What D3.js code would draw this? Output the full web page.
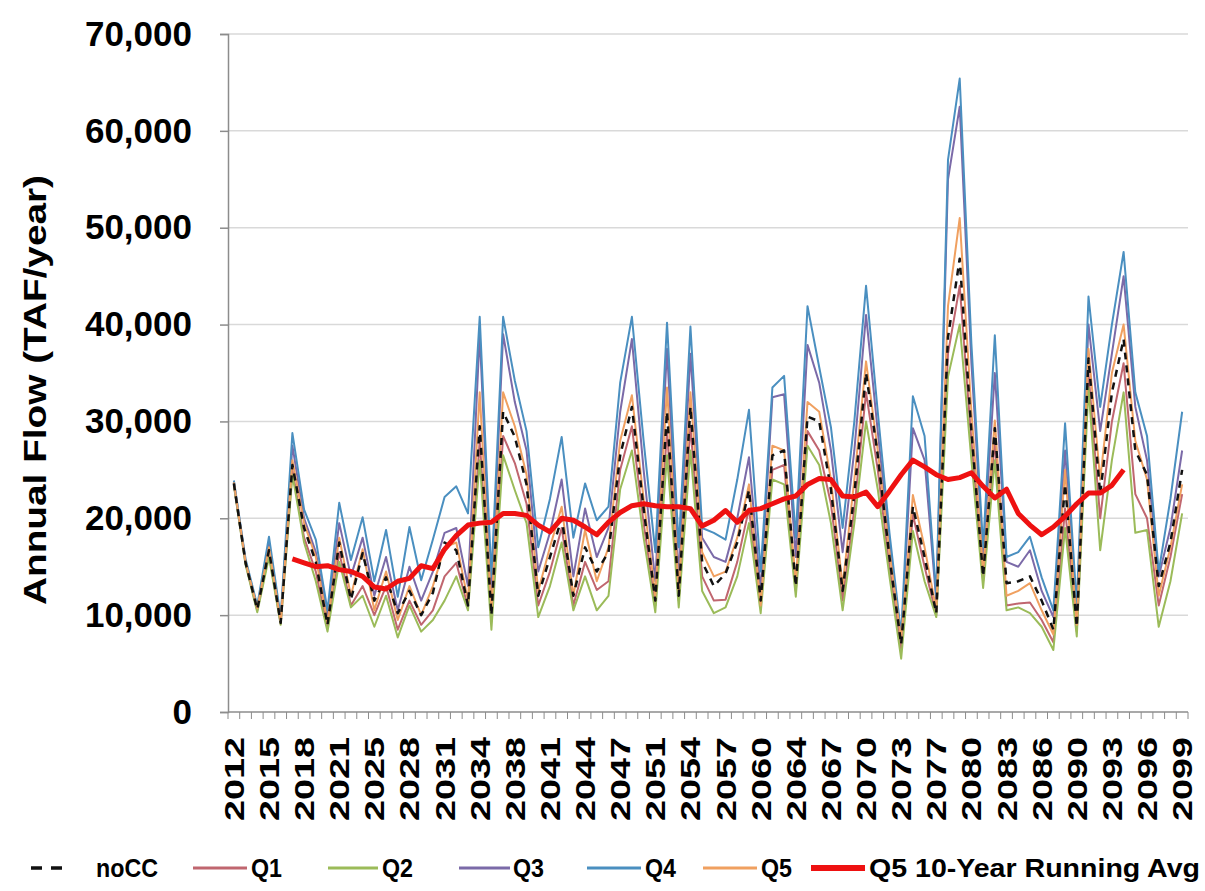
<!DOCTYPE html>
<html>
<head>
<meta charset="utf-8">
<script src="https://cdn.jsdelivr.net/npm/d3@7"></script>
<style>
  body { margin: 0; background: #fff; }
  text { font-family: 'Liberation Sans', Arial, sans-serif; font-weight: bold; fill: #000; }
</style>
</head>
<body>
<svg id="chart" width="1205" height="891"></svg>
<script>
// categories (one point per year, a few years are not in the series)
const years = [2012, 2013, 2014, 2015, 2016, 2017, 2018, 2019, 2020, 2021, 2022, 2023,
  2025, 2026, 2027, 2028, 2029, 2030, 2031, 2032, 2033, 2034, 2035, 2036,
  2038, 2039, 2040, 2041, 2042, 2043, 2044, 2045, 2046, 2047, 2048, 2049,
  2051, 2052, 2053, 2054, 2055, 2056, 2057, 2058, 2059, 2060, 2061, 2062,
  2064, 2065, 2066, 2067, 2068, 2069, 2070, 2071, 2072, 2073, 2074, 2075,
  2077, 2078, 2079, 2080, 2081, 2082, 2083, 2084, 2085, 2086, 2087, 2088,
  2090, 2091, 2092, 2093, 2094, 2095, 2096, 2097, 2098, 2099];

const noCC = [23600, 15400, 10600, 16700, 9200, 25500, 19000, 15500, 9000, 17500, 11600, 16400,
  11500, 13900, 10200, 12500, 10000, 12300, 17500, 16700, 11000, 29500, 10000, 31000,
  28400, 23500, 12000, 16000, 20000, 12000, 17000, 14500, 16500, 26500, 31500, 21000,
  11500, 31000, 12000, 31500, 15500, 13000, 14300, 17500, 22900, 11500, 26500, 27000,
  13000, 30500, 30000, 23000, 12500, 22500, 35000, 26500, 16000, 7000, 21200, 16000,
  10200, 38700, 46800, 29000, 14000, 29300, 13300, 13500, 14000, 11500, 8500, 23500,
  8800, 36500, 22500, 33000, 38500, 27000, 24500, 13000, 17500, 25000];

const q1 = [23500, 15300, 10500, 16300, 9100, 25000, 18000, 14500, 8600, 16500, 11000, 13000,
  10000, 13000, 8500, 11500, 9000, 10500, 14000, 15400, 10800, 28000, 9500, 28500,
  25700, 21500, 11000, 14500, 19000, 11000, 15500, 12600, 13500, 25000, 29500, 19500,
  11000, 29000, 11500, 29500, 14000, 11500, 11600, 15500, 21000, 10800, 25000, 25500,
  12500, 29000, 27000, 21500, 11500, 21000, 33000, 25000, 15000, 6500, 20400, 15000,
  10000, 37000, 44000, 28000, 13500, 28000, 11000, 11200, 11300, 9500, 7200, 21000,
  8300, 35000, 20000, 30000, 36000, 22500, 20000, 11000, 16000, 22500];

const q2 = [23400, 15200, 10300, 16000, 9000, 24500, 17500, 13500, 8300, 15500, 10800, 12000,
  8800, 12000, 7700, 11000, 8300, 9500, 11500, 14000, 10500, 26000, 8500, 26500,
  22900, 19500, 9800, 13000, 17500, 10500, 14000, 10500, 12000, 23000, 27000, 18000,
  10300, 26500, 10800, 27000, 12500, 10200, 10800, 14000, 19500, 10200, 24000, 23500,
  11900, 27500, 25500, 19500, 10500, 19500, 30000, 23000, 14000, 5500, 18700, 13500,
  9800, 34600, 40000, 26000, 12800, 26000, 10500, 10800, 10200, 8800, 6400, 19000,
  7800, 33500, 16700, 26000, 33000, 18500, 18800, 8800, 13500, 20500];

const q3 = [23800, 15600, 10800, 17500, 9500, 27500, 20000, 16500, 10000, 19500, 14000, 18000,
  12000, 16000, 10500, 15000, 11500, 14500, 18500, 19000, 13000, 39000, 12000, 39000,
  32000, 27000, 14500, 18500, 24000, 14000, 21000, 16000, 19000, 31000, 38500, 25000,
  13500, 37500, 14000, 37000, 18000, 16000, 15500, 20000, 26300, 12500, 32500, 32800,
  16000, 37900, 34000, 27000, 16500, 27000, 41000, 29000, 17500, 7500, 29300, 26000,
  11500, 55000, 62500, 36000, 16000, 35000, 15500, 15000, 16700, 12500, 9800, 27000,
  10000, 40000, 29000, 37000, 45000, 31500, 26000, 14000, 19000, 27000];

const q4 = [23900, 15800, 11000, 18100, 9800, 28800, 20900, 17800, 10500, 21600, 15700, 20100,
  13500, 18800, 11900, 19100, 13600, 17800, 22200, 23300, 20500, 40800, 14000, 40800,
  34200, 29000, 17000, 22000, 28400, 18000, 23600, 19800, 21200, 34000, 40800, 28000,
  16500, 40200, 17000, 39800, 19000, 18500, 17800, 24000, 31200, 14500, 33500, 34700,
  18000, 41900, 35600, 29400, 19000, 30000, 44000, 31000, 18500, 8000, 32600, 28500,
  12000, 57000, 65400, 38000, 17000, 38900, 16000, 16500, 18100, 13900, 10500, 29800,
  11000, 42900, 31500, 40000, 47500, 33000, 28500, 14500, 22000, 31000];

const q5 = [23700, 15500, 10700, 17000, 9300, 26000, 19500, 16000, 9200, 18000, 12000, 16800,
  10500, 14500, 9500, 13000, 10000, 13000, 17000, 17500, 11500, 33000, 10500, 33000,
  29500, 24500, 12500, 17000, 21200, 12000, 18800, 13500, 17000, 28000, 32700, 22000,
  12000, 33500, 12500, 33000, 16500, 14000, 14500, 18000, 23500, 11000, 27500, 27000,
  13500, 32000, 31000, 24000, 13000, 24000, 36200, 27000, 16500, 7500, 22400, 17000,
  10500, 41900, 51000, 31000, 14500, 30100, 12000, 12500, 13300, 10500, 8000, 25000,
  9000, 37500, 24000, 35000, 40000, 28000, 24000, 12000, 17000, 23500];

// Q5 10-year running average (undefined at both ends)
const q5RunAvg = [null, null, null, null, null, 15800, 15400, 15000, 15100, 14700, 14500, 14000,
  12900, 12700, 13500, 13800, 15100, 14800, 16800, 18200, 19300, 19500, 19600, 20500,
  20500, 20300, 19300, 18600, 20000, 19800, 19100, 18300, 19600, 20600, 21300, 21500,
  21300, 21200, 21200, 21000, 19200, 19800, 20800, 19600, 20800, 21000, 21500, 22000,
  22300, 23500, 24100, 24000, 22300, 22200, 22700, 21200, 22800, 24500, 26000, 25300,
  24500, 24000, 24200, 24700, 23300, 22100, 23000, 20500, 19300, 18300, 19100, 20200,
  21500, 22600, 22600, 23400, 25000, null, null, null, null, null];

const yTicks = [0, 10000, 20000, 30000, 40000, 50000, 60000, 70000];
const labelEvery = 3;

const series = [
  {name: 'Q1', values: q1, color: '#c0666f', width: 2, dash: null},
  {name: 'Q2', values: q2, color: '#9bbb59', width: 2, dash: null},
  {name: 'Q3', values: q3, color: '#7b6aa8', width: 2, dash: null},
  {name: 'Q4', values: q4, color: '#4a8fc0', width: 2, dash: null},
  {name: 'Q5', values: q5, color: '#f0a060', width: 2, dash: null},
  {name: 'noCC', values: noCC, color: '#111', width: 2.5, dash: '7,6'}
];
const avgSeries = {name: 'Q5 10-Year Running Avg', values: q5RunAvg, color: '#ee1111', width: 5};

const margin = {top: 34, right: 17, bottom: 179, left: 228};
const width = 1205, height = 891;

const svg = d3.select('#chart');

const x = d3.scaleBand()
  .domain(years)
  .range([margin.left, width - margin.right]);

const y = d3.scaleLinear()
  .domain([0, 70000])
  .range([height - margin.bottom, margin.top]);

const cx = d => x(d) + x.bandwidth() / 2;

// gridlines
svg.append('g')
  .selectAll('line')
  .data(yTicks.filter(d => d > 0))
  .enter()
  .append('line')
  .attr('x1', margin.left)
  .attr('x2', width - margin.right)
  .attr('y1', d => y(d))
  .attr('y2', d => y(d))
  .attr('stroke', '#d9d9d9')
  .attr('stroke-width', 1.5);

// y axis
const yAxis = svg.append('g')
  .attr('transform', 'translate(' + margin.left + ',0)')
  .call(d3.axisLeft(y).tickValues(yTicks).tickFormat(d3.format(',')).tickSize(8).tickPadding(28));

yAxis.select('.domain').attr('stroke', '#8c8c8c').attr('stroke-width', 1.5);
yAxis.selectAll('.tick line').attr('stroke', '#8c8c8c').attr('stroke-width', 1.5);
yAxis.selectAll('.tick text')
  .attr('font-size', 35)
  .attr('font-family', "'Liberation Sans', Arial, sans-serif")
  .attr('font-weight', 'bold')
  .attr('fill', '#000');

// x axis: tick marks between categories
const xAxisY = y(0);
svg.append('line')
  .attr('x1', margin.left)
  .attr('x2', width - margin.right)
  .attr('y1', xAxisY)
  .attr('y2', xAxisY)
  .attr('stroke', '#8c8c8c')
  .attr('stroke-width', 1.5);

svg.append('g')
  .selectAll('line')
  .data(d3.range(years.length + 1))
  .enter()
  .append('line')
  .attr('x1', i => margin.left + i * x.step())
  .attr('x2', i => margin.left + i * x.step())
  .attr('y1', xAxisY)
  .attr('y2', xAxisY + 7)
  .attr('stroke', '#8c8c8c')
  .attr('stroke-width', 1);

svg.append('g')
  .selectAll('text')
  .data(years.filter((d, i) => i % labelEvery === 0))
  .enter()
  .append('text')
  .attr('transform', d => 'translate(' + (cx(d) + 10) + ',' + (xAxisY + 25) + ') rotate(-90)')
  .attr('text-anchor', 'end')
  .attr('font-size', 28)
  .attr('textLength', 84)
  .attr('lengthAdjust', 'spacingAndGlyphs')
  .text(d => d);

// y title
svg.append('text')
  .attr('transform', 'translate(46,390) rotate(-90)')
  .attr('text-anchor', 'middle')
  .attr('font-size', 32)
  .attr('textLength', 430)
  .attr('lengthAdjust', 'spacingAndGlyphs')
  .text('Annual Flow  (TAF/year)');

// series lines
const line = d3.line()
  .defined(d => d.v != null)
  .x(d => cx(d.year))
  .y(d => y(d.v));

const dataGroup = svg.append('g').attr('class', 'data-group');

series.concat([avgSeries]).forEach(s => {
  dataGroup.append('path')
    .datum(years.map((yr, i) => ({year: yr, v: s.values[i]})))
    .attr('fill', 'none')
    .attr('stroke', s.color)
    .attr('stroke-width', s.width)
    .attr('stroke-linejoin', 'round')
    .attr('stroke-dasharray', s.dash)
    .attr('d', line);
});

// legend
const legendItems = [
  {s: series[5], x: 31, w: 38, dash: '11,9', textX: 96, len: 62},
  {s: series[0], x: 193, w: 54, textX: 251, len: 31},
  {s: series[1], x: 328, w: 50, textX: 382, len: 31},
  {s: series[2], x: 459, w: 51, textX: 513, len: 31},
  {s: series[3], x: 587, w: 54, textX: 645, len: 31},
  {s: series[4], x: 703, w: 54, textX: 761, len: 31},
  {s: avgSeries, x: 811, w: 54, textX: 869, len: 331}
];

const legend = svg.append('g').attr('transform', 'translate(0,868)');

legend.selectAll('line')
  .data(legendItems)
  .enter()
  .append('line')
  .attr('x1', d => d.x)
  .attr('x2', d => d.x + d.w)
  .attr('y1', 0)
  .attr('y2', 0)
  .attr('stroke', d => d.s.color)
  .attr('stroke-width', d => d.s.width + 1)
  .attr('stroke-dasharray', d => d.dash || null);

legend.selectAll('text')
  .data(legendItems)
  .enter()
  .append('text')
  .attr('x', d => d.textX)
  .attr('y', 0)
  .attr('dy', '0.36em')
  .attr('font-family', "'Liberation Sans Narrow', 'Liberation Sans', Arial, sans-serif")
  .attr('font-size', 25)
  .attr('textLength', d => d.len)
  .attr('lengthAdjust', 'spacingAndGlyphs')
  .text(d => d.s.name);
</script>
</body>
</html>
